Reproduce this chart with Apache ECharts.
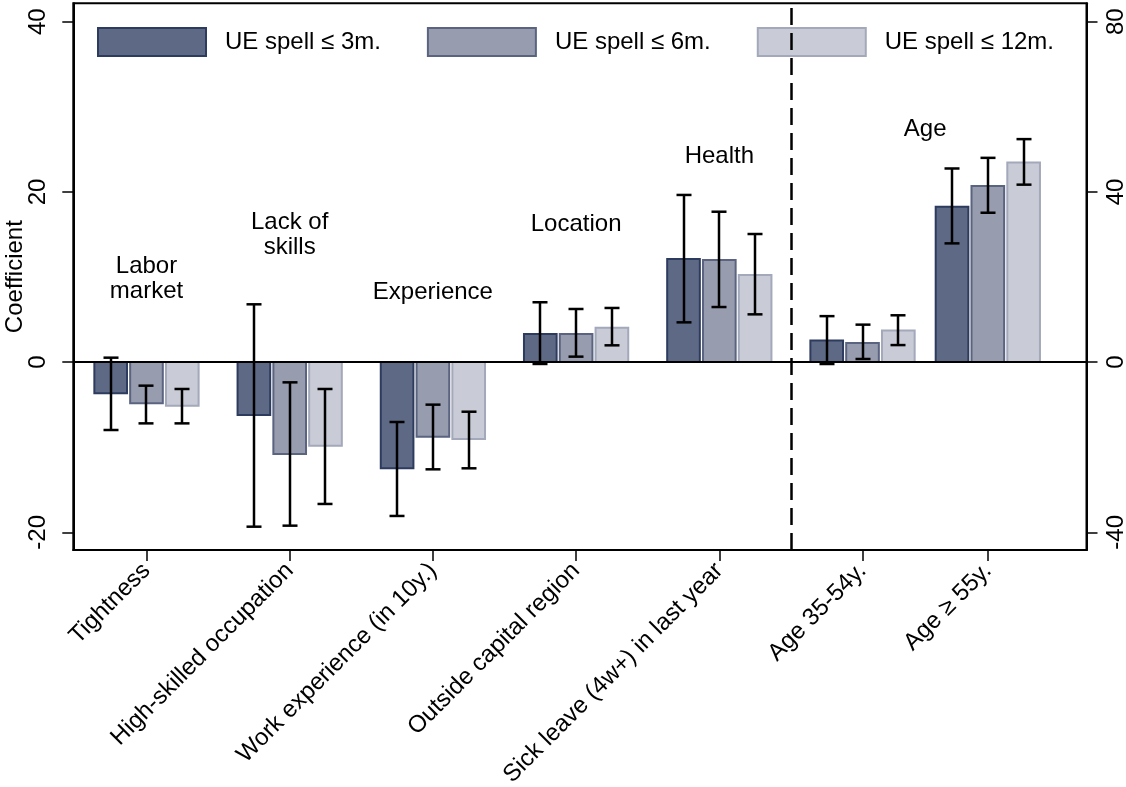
<!DOCTYPE html>
<html>
<head>
<meta charset="utf-8">
<script src="https://cdn.jsdelivr.net/npm/echarts@6/dist/echarts.min.js"></script>
<style>
html,body{margin:0;padding:0;background:#fff;}
#chart{width:1126px;height:787px;}
</style>
</head>
<body>
<div id="chart"></div>
<script>
// ---------- data ----------
const categories = ['Tightness', 'High-skilled occupation', 'Work experience (in 10y.)',
  'Outside capital region', 'Sick leave (4w+) in last year', 'Age 35-54y.', 'Age \u2265 55y.'];
// last two categories (age) are read on the right axis
const onRightAxis = [false, false, false, false, false, true, true];

const seriesNames = ['UE spell \u2264 3m.', 'UE spell \u2264 6m.', 'UE spell \u2264 12m.'];

const coef3m  = [-3.67, -6.22, -12.48, 3.30, 12.11, 5.1, 36.5];
const lo3m    = [-7.98, -19.34, -18.08, -0.22, 4.67, -0.45, 27.9];
const hi3m    = [0.52, 6.79, -7.04, 7.03, 19.64, 10.8, 45.5];

const coef6m  = [-4.85, -10.8, -8.76, 3.30, 12.0, 4.5, 41.4];
const lo6m    = [-7.2, -19.22, -12.6, 0.64, 6.47, 0.73, 35.1];
const hi6m    = [-2.77, -2.38, -5.0, 6.24, 17.67, 8.8, 48.0];

const coef12m = [-5.12, -9.82, -9.04, 4.05, 10.24, 7.4, 46.9];
const lo12m   = [-7.2, -16.67, -12.48, 1.97, 5.61, 4.0, 41.7];
const hi12m   = [-3.16, -3.16, -5.83, 6.36, 15.05, 11.0, 52.4];

const leftTicks  = [-20, 0, 20, 40];
const rightTicks = [-40, 0, 40, 80];

const groupNames = ['Labor\nmarket', 'Lack of\nskills', 'Experience', 'Location', 'Health', 'Age'];

// ---------- layout (positions on the x value axis, in category units) ----------
const catSlots = [1, 2, 3, 4, 5, 6, 6.875];
const separatorAt = 5.5;
const groupLabelX = [1, 2, 3, 4, 5, 6.4375];
const groupLabelY = [9.8, 14.9, 8.2, 16.2, 24.2, 27.3];

const BAR_W = 0.228;
const BAR_OFF = 0.25;
const CAP = 7.5;

const fills   = ['#5e6a85', '#979cae', '#c9ccd6'];
const strokes = ['#2d3b5f', '#5a6480', '#a3a8ba'];
const FONT = "'Liberation Sans', Arial, sans-serif";

const coefs = [coef3m, coef6m, coef12m];
const los = [lo3m, lo6m, lo12m];
const his = [hi3m, hi6m, hi12m];

function makeRender(s) {
  return function (params, api) {
    const x = api.value(0), v = api.value(1), lo = api.value(2), hi = api.value(3);
    const xc = x + (s - 1) * BAR_OFF;
    const p0 = api.coord([xc - BAR_W / 2, 0]);
    const p1 = api.coord([xc + BAR_W / 2, v]);
    const top = api.coord([xc, hi]);
    const bot = api.coord([xc, lo]);
    const ex = Math.round(top[0]);
    return {
      type: 'group',
      children: [
        {
          type: 'rect',
          shape: { x: p0[0], y: Math.min(p0[1], p1[1]), width: p1[0] - p0[0], height: Math.abs(p1[1] - p0[1]) },
          style: { fill: fills[s], stroke: strokes[s], lineWidth: 2 }
        },
        { type: 'line', shape: { x1: ex, y1: top[1], x2: ex, y2: bot[1] }, style: { stroke: '#000', lineWidth: 2.5 } },
        { type: 'line', shape: { x1: ex - CAP, y1: top[1], x2: ex + CAP, y2: top[1] }, style: { stroke: '#000', lineWidth: 2.5 } },
        { type: 'line', shape: { x1: ex - CAP, y1: bot[1], x2: ex + CAP, y2: bot[1] }, style: { stroke: '#000', lineWidth: 2.5 } }
      ]
    };
  };
}

const series = [];
for (let s = 0; s < 3; s++) {
  for (const side of [0, 1]) {
    const data = [];
    categories.forEach((c, i) => {
      if ((onRightAxis[i] ? 1 : 0) === side) {
        data.push([catSlots[i], coefs[s][i], los[s][i], his[s][i]]);
      }
    });
    series.push({
      type: 'custom',
      name: seriesNames[s],
      xAxisIndex: 0,
      yAxisIndex: side,
      itemStyle: { color: fills[s], borderColor: strokes[s], borderWidth: 2 },
      encode: { x: 0, y: [1, 2, 3] },
      renderItem: makeRender(s),
      data: data,
      z: 2
    });
  }
}

// group annotations + reference lines
series.push({
  type: 'custom',
  name: 'groups',
  xAxisIndex: 0,
  yAxisIndex: 0,
  z: 3,
  silent: true,
  data: groupNames.map((n, i) => [groupLabelX[i], groupLabelY[i], i]),
  encode: { x: 0, y: 1 },
  renderItem: function (params, api) {
    const p = api.coord([api.value(0), api.value(1)]);
    return {
      type: 'text',
      x: p[0], y: p[1],
      style: {
        text: groupNames[api.value(2)],
        align: 'center', verticalAlign: 'middle',
        fontSize: 24, lineHeight: 25, fontFamily: FONT, fill: '#000'
      }
    };
  },
  markLine: {
    silent: true,
    symbol: ['none', 'none'],
    label: { show: false },
    animation: false,
    data: [
      { yAxis: 0, lineStyle: { color: '#000', width: 2.2, type: 'solid' } },
      { xAxis: separatorAt, lineStyle: { color: '#000', width: 2.5, type: [17, 8] } }
    ]
  }
});

const chart = echarts.init(document.getElementById('chart'));
chart.setOption({
  animation: false,
  backgroundColor: '#fff',
  textStyle: { fontFamily: FONT, color: '#000' },
  grid: {
    left: 73.3, right: 39.5, top: 3.3, bottom: 237,
    containLabel: false, outerBoundsMode: 'none',
    show: true, borderColor: '#000', borderWidth: 2, backgroundColor: '#fff'
  },
  legend: {
    data: seriesNames.map((n, s) => ({ name: n, icon: 'rect', itemStyle: { color: fills[s], borderColor: strokes[s], borderWidth: 2 } })),
    left: 80, top: 13.5,
    padding: [13.5, 18, 12.5, 17],
    backgroundColor: '#fff',
    itemWidth: 108, itemHeight: 28,
    itemGap: 46,
    selectedMode: false,
    textStyle: { fontSize: 24, fontFamily: FONT, color: '#000', padding: [0, 0, 0, 14] }
  },
  xAxis: {
    type: 'value',
    min: 0.489, max: 7.564,
    splitLine: { show: false },
    axisLine: { show: true, onZero: false, lineStyle: { color: '#000', width: 2 } },
    axisTick: { show: true, customValues: catSlots, length: 11, lineStyle: { color: '#000', width: 1.5 } },
    axisLabel: {
      customValues: catSlots,
      rotate: 45, margin: 17, fontSize: 24, color: '#000', fontFamily: FONT,
      formatter: function (v) { const i = catSlots.indexOf(v); return i >= 0 ? categories[i] : ''; }
    }
  },
  yAxis: [
    {
      type: 'value', position: 'left',
      min: -22.08, max: 42.16,
      name: 'Coefficient', nameLocation: 'middle', nameGap: 46, nameMoveOverlap: false,
      nameTextStyle: { fontSize: 24, color: '#000', fontFamily: FONT },
      splitLine: { show: false },
      axisLine: { show: true, onZero: false, lineStyle: { color: '#000', width: 2 } },
      axisTick: { show: true, customValues: leftTicks, length: 11, lineStyle: { color: '#000', width: 1.5 } },
      axisLabel: { customValues: leftTicks, rotate: 90, margin: 23, fontSize: 24, color: '#000', fontFamily: FONT }
    },
    {
      type: 'value', position: 'right',
      min: -44.16, max: 84.32,
      splitLine: { show: false },
      axisLine: { show: true, onZero: false, lineStyle: { color: '#000', width: 2 } },
      axisTick: { show: true, customValues: rightTicks, length: 11, lineStyle: { color: '#000', width: 1.5 } },
      axisLabel: { customValues: rightTicks, rotate: 90, margin: 18, fontSize: 24, color: '#000', fontFamily: FONT }
    }
  ],
  series: series
});
</script>
</body>
</html>
